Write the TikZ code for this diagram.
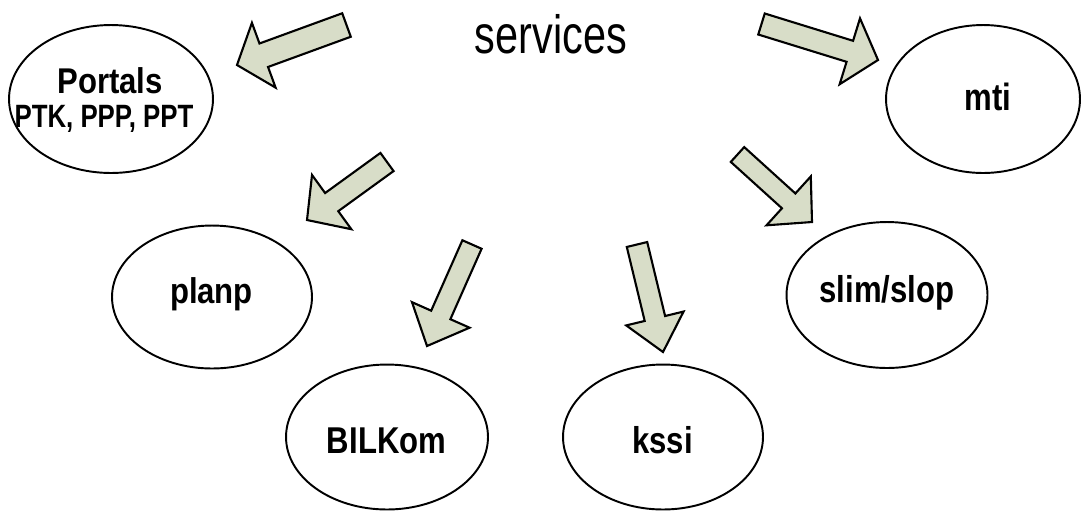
\documentclass[tikz,border=0pt]{standalone}
\usepackage{fontspec}
\setmainfont{Liberation Sans}
\usetikzlibrary{calc,shapes.geometric}
\definecolor{arrowfill}{RGB}{216,221,200}
\newcommand\blockarrow[5]{%
  \coordinate (hb) at ($(#2)!#5!(#1)$);
  \draw[arrowstyle] ($(#1)!#3!90:(#2)$) -- ($(hb)!#3!90:(#2)$) -- ($(hb)!#4!90:(#2)$) -- (#2)
    -- ($(hb)!#4!-90:(#2)$) -- ($(hb)!#3!-90:(#2)$) -- ($(#1)!#3!-90:(#2)$) -- cycle;
}
\begin{document}
\begin{tikzpicture}[x=0.02cm,y=-0.02cm,
  oval/.style={ellipse,draw=black,line width=1.1pt,inner sep=0pt},
  lbl/.style={anchor=base,inner sep=0pt,font=\fontsize{17.7}{20}\selectfont\bfseries},
  arrowstyle/.style={fill=arrowfill,draw=black,line width=1.2pt,line join=miter}]
\useasboundingbox (0,0) rectangle (1081,512);
% ellipses
\node[oval,minimum width=4.08cm,minimum height=2.96cm] (portals) at (111,99) {};
\node[oval,minimum width=3.88cm,minimum height=2.96cm] (mti) at (983,99) {};
\node[oval,minimum width=4.00cm,minimum height=2.86cm] (planp) at (212,297) {};
\node[oval,minimum width=4.04cm,minimum height=2.90cm] (bilkom) at (387,437) {};
\node[oval,minimum width=4.00cm,minimum height=2.90cm] (kssi) at (663,437) {};
\node[oval,minimum width=4.02cm,minimum height=2.92cm] (slim) at (887,295) {};
% labels
\node[anchor=base,inner sep=0pt,font=\fontsize{23.6}{26}\selectfont] (services) at (551,53) {\scalebox{1}[1.3]{services}};
\node[lbl] (portalsT) at (110,93) {\scalebox{1}[1.15]{Portals}};
\node[anchor=base,inner sep=0pt,font=\fontsize{14.7}{17}\selectfont\bfseries] (portalsS) at (104,127) {\scalebox{1}[1.25]{PTK, PPP, PPT}};
\node[lbl] (mtiT) at (988,110) {\scalebox{1}[1.22]{mti}};
\node[lbl] (planpT) at (211.5,303) {\scalebox{1}[1.15]{planp}};
\node[lbl] (bilkomT) at (386.5,453) {\scalebox{1}[1.2]{BILKom}};
\node[lbl] (kssiT) at (662.5,453) {\scalebox{1}[1.2]{kssi}};
\node[lbl] (slimT) at (887,302) {\scalebox{1}[1.2]{slim/slop}};
% arrow tails and tips
\coordinate (t1) at (346.5,25);  \coordinate (p1) at (237,65);
\coordinate (t2) at (761.5,24);  \coordinate (p2) at (878,60);
\coordinate (t3) at (387,162);   \coordinate (p3) at (307,220);
\coordinate (t4) at (472,244.5); \coordinate (p4) at (427,346);
\coordinate (t5) at (637,244.5); \coordinate (p5) at (663,352);
\coordinate (t6) at (737.5,154.5); \coordinate (p6) at (812,222);
\blockarrow{t1}{p1}{0.25cm}{0.69cm}{0.57cm}
\blockarrow{t2}{p2}{0.22cm}{0.69cm}{0.59cm}
\blockarrow{t3}{p3}{0.224cm}{0.67cm}{0.61cm}
\blockarrow{t4}{p4}{0.21cm}{0.63cm}{0.68cm}
\blockarrow{t5}{p5}{0.21cm}{0.59cm}{0.69cm}
\blockarrow{t6}{p6}{0.20cm}{0.66cm}{0.63cm}
\end{tikzpicture}
\end{document}
